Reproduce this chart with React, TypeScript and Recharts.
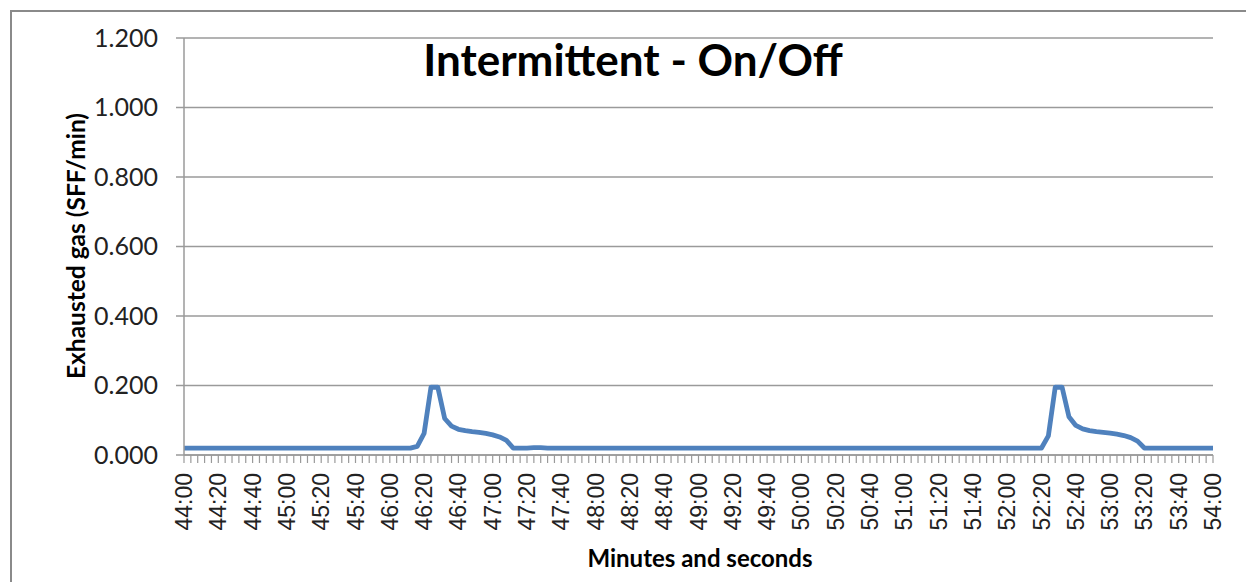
import React from 'react';
import { LineChart, Line, XAxis, YAxis, CartesianGrid } from 'recharts';

// one reading every 4 seconds, 44:00 .. 54:00
const START_SEC = 44 * 60;
const STEP_SEC = 4;

const GAS = [
  0.02, 0.02, 0.02, 0.02, 0.02, 0.02, 0.02, 0.02, 0.02, 0.02,
  0.02, 0.02, 0.02, 0.02, 0.02, 0.02, 0.02, 0.02, 0.02, 0.02,
  0.02, 0.02, 0.02, 0.02, 0.02, 0.02, 0.02, 0.02, 0.02, 0.02,
  0.02, 0.02, 0.02, 0.02, 0.025, 0.062, 0.195, 0.195, 0.105, 0.083,
  0.074, 0.07, 0.067, 0.065, 0.062, 0.058, 0.052, 0.042, 0.02, 0.02,
  0.02, 0.021, 0.021, 0.02, 0.02, 0.02, 0.02, 0.02, 0.02, 0.02,
  0.02, 0.02, 0.02, 0.02, 0.02, 0.02, 0.02, 0.02, 0.02, 0.02,
  0.02, 0.02, 0.02, 0.02, 0.02, 0.02, 0.02, 0.02, 0.02, 0.02,
  0.02, 0.02, 0.02, 0.02, 0.02, 0.02, 0.02, 0.02, 0.02, 0.02,
  0.02, 0.02, 0.02, 0.02, 0.02, 0.02, 0.02, 0.02, 0.02, 0.02,
  0.02, 0.02, 0.02, 0.02, 0.02, 0.02, 0.02, 0.02, 0.02, 0.02,
  0.02, 0.02, 0.02, 0.02, 0.02, 0.02, 0.02, 0.02, 0.02, 0.02,
  0.02, 0.02, 0.02, 0.02, 0.02, 0.02, 0.055, 0.195, 0.195, 0.11,
  0.085, 0.075, 0.07, 0.067, 0.065, 0.063, 0.06, 0.056, 0.05, 0.04,
  0.02, 0.02, 0.02, 0.02, 0.02, 0.02, 0.02, 0.02, 0.02, 0.02,
  0.02,
];

const X_LABELS = [
  '44:00', '44:20', '44:40', '45:00', '45:20', '45:40', '46:00', '46:20',
  '46:40', '47:00', '47:20', '47:40', '48:00', '48:20', '48:40', '49:00',
  '49:20', '49:40', '50:00', '50:20', '50:40', '51:00', '51:20', '51:40',
  '52:00', '52:20', '52:40', '53:00', '53:20', '53:40', '54:00',
];

const Y_TICKS = [0, 0.2, 0.4, 0.6, 0.8, 1.0, 1.2];

const mmss = (s: number) => `${Math.floor(s / 60)}:${String(s % 60).padStart(2, '0')}`;

const data = GAS.map((v, i) => ({ t: mmss(START_SEC + i * STEP_SEC), gas: v }));

const GRAY = '#9a9a9a';

const XTick = (props: any) => {
  const { x, y, payload } = props;
  if (!X_LABELS.includes(payload.value)) return <g />;
  return (
    <text
      x={x}
      y={y}
      transform={`rotate(-90 ${x} ${y})`}
      textAnchor="end"
      dominantBaseline="central"
      fontFamily="'Liberation Sans', Arial, sans-serif"
      fontSize={23}
      fill="#222"
    >
      {payload.value}
    </text>
  );
};

export default function App() {
  return (
    <div style={{ position: 'absolute', left: 0, top: 0, width: 1246, height: 582, background: '#fff', overflow: 'hidden' }}>
      {/* chart frame, only top and left edges are in view */}
      <div style={{ position: 'absolute', left: 10, top: 10, width: 1300, height: 700, border: '2px solid #8a8a8a', boxSizing: 'border-box' }} />

      <LineChart
        width={1246}
        height={582}
        data={data}
        margin={{ top: 38, right: 33, left: 84, bottom: 47 }}
        style={{ position: 'absolute', left: 0, top: 0 }}
      >
        <CartesianGrid vertical={false} stroke={GRAY} strokeWidth={1.5} />
        <XAxis
          dataKey="t"
          interval={0}
          height={80}
          tick={<XTick />}
          tickSize={8}
          tickMargin={10}
          stroke={GRAY}
          axisLine={{ stroke: GRAY, strokeWidth: 1.5 }}
          tickLine={{ stroke: GRAY, strokeWidth: 1.2 }}
        />
        <YAxis
          width={100}
          domain={[0, 1.2]}
          ticks={Y_TICKS}
          tickFormatter={(v: number) => v.toFixed(3)}
          tickSize={8}
          tickMargin={18}
          axisLine={{ stroke: GRAY, strokeWidth: 1.5 }}
          tickLine={{ stroke: GRAY, strokeWidth: 1.5 }}
          tick={{ fill: '#222', fontSize: 25, fontFamily: 'Lato, sans-serif' }}
        />
        <Line
          type="linear"
          dataKey="gas"
          stroke="#4f81bd"
          strokeWidth={4.8}
          strokeLinejoin="round"
          dot={false}
          isAnimationActive={false}
        />
      </LineChart>

      <div style={{ position: 'absolute', left: 633, top: 59, transform: 'translate(-50%, -50%)', whiteSpace: 'nowrap', fontFamily: 'Lato, sans-serif', fontWeight: 700, fontSize: 44, color: '#000' }}>
        Intermittent - On/Off
      </div>
      <div style={{ position: 'absolute', left: 75, top: 246, transform: 'translate(-50%, -50%) rotate(-90deg)', whiteSpace: 'nowrap', fontFamily: 'Lato, sans-serif', fontWeight: 700, fontSize: 24.5, color: '#000' }}>
        Exhausted gas (SFF/min)
      </div>
      <div style={{ position: 'absolute', left: 700, top: 557, transform: 'translate(-50%, -50%)', whiteSpace: 'nowrap', fontFamily: 'Lato, sans-serif', fontWeight: 700, fontSize: 24, color: '#000' }}>
        Minutes and seconds
      </div>
    </div>
  );
}
